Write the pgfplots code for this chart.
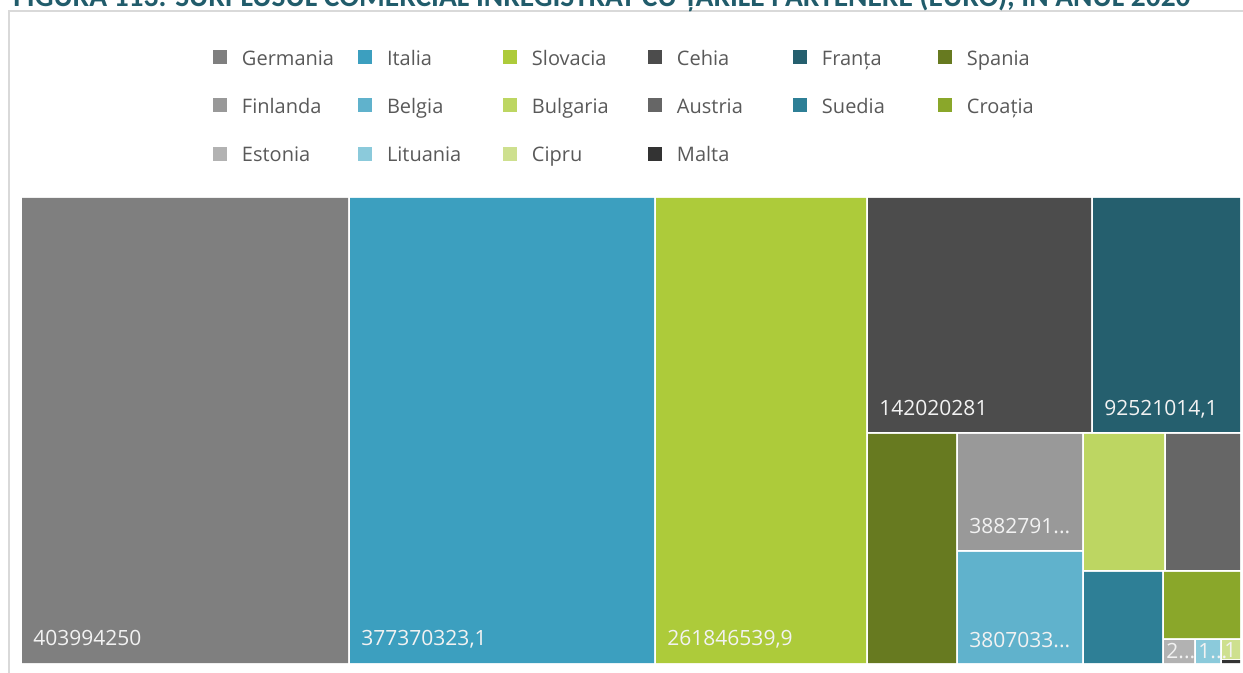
\documentclass[border=0pt]{standalone}
\usepackage{pgfplots}
\pgfplotsset{compat=1.18}
\usepackage{fontspec}
\setmainfont{Open Sans}
\newfontfamily\titlefont{Carlito}
\definecolor{cGer}{HTML}{7F7F7F}
\definecolor{cIta}{HTML}{3C9FBF}
\definecolor{cSlo}{HTML}{ADCB3A}
\definecolor{cCeh}{HTML}{4C4C4C}
\definecolor{cFra}{HTML}{255F6E}
\definecolor{cSpa}{HTML}{677A20}
\definecolor{cFin}{HTML}{999999}
\definecolor{cBel}{HTML}{60B2CC}
\definecolor{cBul}{HTML}{BDD662}
\definecolor{cAus}{HTML}{666666}
\definecolor{cSue}{HTML}{2E7F96}
\definecolor{cCro}{HTML}{8AA72A}
\definecolor{cEst}{HTML}{B2B2B2}
\definecolor{cLit}{HTML}{8BCADB}
\definecolor{cCip}{HTML}{CEE08F}
\definecolor{cMal}{HTML}{333333}
\definecolor{lgray}{HTML}{595959}
\definecolor{labc}{HTML}{F2F2F2}
\definecolor{ctitle}{HTML}{215C6B}
\definecolor{frame}{HTML}{D9D9D9}
\newsavebox\tbox
\begin{document}
\sbox\tbox{\titlefont\bfseries\fontsize{12}{14}\selectfont FIGURA 113. SURPLUSUL COMERCIAL ÎNREGISTRAT CU ȚĂRILE PARTENERE (EURO), ÎN ANUL 2020}%
\pgfmathsetmacro\tfs{12*588.5/\the\wd\tbox}%
\begin{tikzpicture}
\begin{axis}[name=ax, at={(0,0)}, anchor=south west, scale only axis,
  width=621.5pt, height=336.5pt,
  xmin=0, xmax=1243, ymin=0, ymax=673, y dir=reverse,
  hide axis, clip=false,
  legend columns=6,
  legend style={at={(axis cs:213,50)}, anchor=north west, draw=none, fill=none,
    inner sep=0pt, outer sep=0pt, row sep=16.6pt,
    font=\fontsize{10}{12}\selectfont,
    nodes={inner sep=0pt, text height=7.2pt, text depth=0pt, text width=58pt, align=left, text=lgray},
    /tikz/every odd column/.style={column sep=7.5pt},
    /tikz/every even column/.style={column sep=0pt}},
  legend image code/.code={\path[#1, draw=none] (0pt,-3.0pt) rectangle (7pt,4.0pt);},
]
% Treemap tiles (pixel layout; area ~ value)
% Germania 403994250
\addplot[fill=cGer, draw=none] coordinates {(22,198) (348,198) (348,663) (22,663) (22,198)};
\addlegendentry{Germania}
% Italia 377370323,1
\addplot[fill=cIta, draw=none] coordinates {(350,198) (654,198) (654,663) (350,663) (350,198)};
\addlegendentry{Italia}
% Slovacia 261846539,9
\addplot[fill=cSlo, draw=none] coordinates {(656,198) (866,198) (866,663) (656,663) (656,198)};
\addlegendentry{Slovacia}
% Cehia 142020281
\addplot[fill=cCeh, draw=none] coordinates {(868,198) (1091,198) (1091,432) (868,432) (868,198)};
\addlegendentry{Cehia}
% Franta 92521014,1
\addplot[fill=cFra, draw=none] coordinates {(1093,198) (1240,198) (1240,432) (1093,432) (1093,198)};
\addlegendentry{Franța}
\addplot[fill=cSpa, draw=none] coordinates {(868,434) (956,434) (956,663) (868,663) (868,434)};
\addlegendentry{Spania}
\addplot[fill=cFin, draw=none] coordinates {(958,434) (1082,434) (1082,550) (958,550) (958,434)};
\addlegendentry{Finlanda}
\addplot[fill=cBel, draw=none] coordinates {(958,552) (1082,552) (1082,663) (958,663) (958,552)};
\addlegendentry{Belgia}
\addplot[fill=cBul, draw=none] coordinates {(1084,434) (1164,434) (1164,570) (1084,570) (1084,434)};
\addlegendentry{Bulgaria}
\addplot[fill=cAus, draw=none] coordinates {(1166,434) (1240,434) (1240,570) (1166,570) (1166,434)};
\addlegendentry{Austria}
\addplot[fill=cSue, draw=none] coordinates {(1084,572) (1162,572) (1162,663) (1084,663) (1084,572)};
\addlegendentry{Suedia}
\addplot[fill=cCro, draw=none] coordinates {(1164,572) (1240,572) (1240,638) (1164,638) (1164,572)};
\addlegendentry{Croația}
\addplot[fill=cEst, draw=none] coordinates {(1164,640) (1194,640) (1194,663) (1164,663) (1164,640)};
\addlegendentry{Estonia}
\addplot[fill=cLit, draw=none] coordinates {(1196,640) (1220,640) (1220,663) (1196,663) (1196,640)};
\addlegendentry{Lituania}
\addplot[fill=cCip, draw=none] coordinates {(1222,640) (1240,640) (1240,659) (1222,659) (1222,640)};
\addlegendentry{Cipru}
\addplot[fill=cMal, draw=none] coordinates {(1222,660) (1240,660) (1240,663) (1222,663) (1222,660)};
\addlegendentry{Malta}
% frame
\draw[frame, line width=1pt] (axis cs:9,700) -- (axis cs:9,11) -- (axis cs:1300,11);
% labels
\begin{scope}[every node/.style={anchor=base west, inner sep=0pt, text=labc, font=\fontsize{10.5}{12}\selectfont}]
\node at (axis cs:33,646) {403994250};
\node at (axis cs:361,646) {377370323,1};
\node at (axis cs:667,646) {261846539,9};
\node at (axis cs:879,416) {142020281};
\node at (axis cs:1104,416) {92521014,1};
\node at (axis cs:969,534) {3882791...};
\node at (axis cs:969,647) {3807033...};
\node at (axis cs:1166,659) {2...};
\node at (axis cs:1198,659) {1...};
\node at (axis cs:1224,657) {1};
\end{scope}
\node[anchor=base west, inner sep=0pt, text=ctitle, font=\titlefont\bfseries\fontsize{\tfs}{14}\selectfont] at (axis cs:13,6.5) {FIGURA 113. SURPLUSUL COMERCIAL ÎNREGISTRAT CU ȚĂRILE PARTENERE (EURO), ÎN ANUL 2020};
\end{axis}
\pgfresetboundingbox
\useasboundingbox (ax.south west) rectangle (ax.north east);
\end{tikzpicture}
\end{document}
